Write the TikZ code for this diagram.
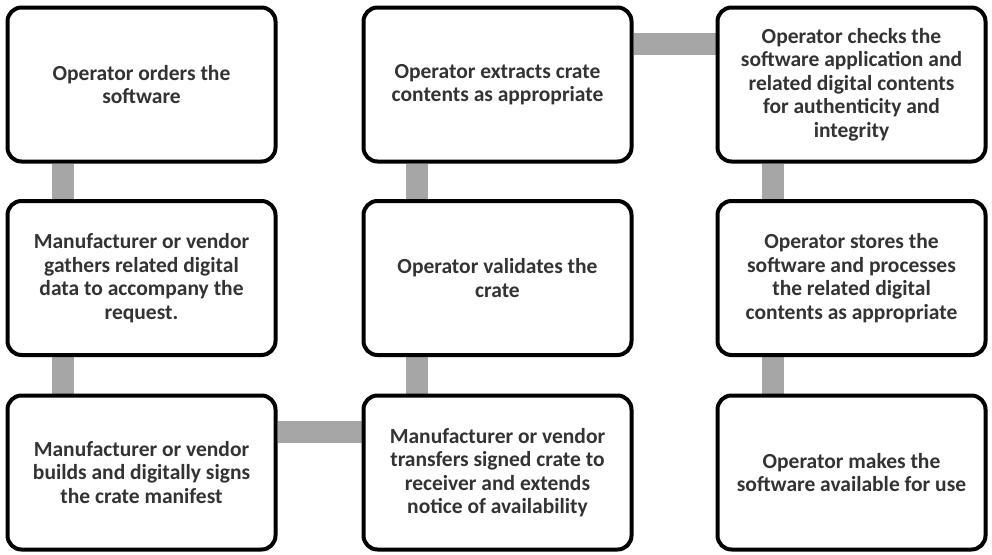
\documentclass[tikz,border=0pt]{standalone}
\usepackage{fontspec}
\setmainfont{Carlito}
\usetikzlibrary{backgrounds}
\begin{document}
\begin{tikzpicture}[x=1pt,y=-1pt,
  stepbox/.style={draw=black, line width=4pt, rounded corners=14pt, fill=white,
    minimum width=268pt, minimum height=154pt, align=center,
    inner sep=0pt, text=black!80, font=\bfseries\fontsize{21.5}{23.5}\selectfont},
  conn/.style={draw=black!35, line width=22pt}]
\useasboundingbox (0,0) rectangle (992,554);
\node[stepbox] (a1) at (141.5,84.5) {Operator orders the\\software};
\node[stepbox] (a2) at (141.5,278) {Manufacturer or vendor\\gathers related digital\\data to accompany the\\request.};
\node[stepbox] (a3) at (141.5,472.5) {Manufacturer or vendor\\builds and digitally signs\\the crate manifest};
\node[stepbox] (b3) at (497.5,472.5) {Manufacturer or vendor\\transfers signed crate to\\receiver and extends\\notice of availability};
\node[stepbox] (b2) at (497.5,278) {Operator validates the\\crate};
\node[stepbox] (b1) at (497.5,84.5) {Operator extracts crate\\contents as appropriate};
\node[stepbox] (c1) at (851.5,84.5) {Operator checks the\\software application and\\related digital contents\\for authenticity and\\integrity};
\node[stepbox] (c2) at (851.5,278) {Operator stores the\\software and processes\\the related digital\\contents as appropriate};
\node[stepbox] (c3) at (851.5,472.5) {Operator makes the\\software available for use};
\begin{scope}[on background layer]
\fill[white] (0,0) rectangle (992,554);
\draw[conn] ([xshift=57pt]a1.south west) -- ([xshift=57pt]a2.north west);
\draw[conn] ([xshift=57pt]a2.south west) -- ([xshift=57pt]a3.north west);
\draw[conn] ([yshift=-38pt]a3.north east) -- ([yshift=-38pt]b3.north west);
\draw[conn] ([xshift=55pt]b3.north west) -- ([xshift=55pt]b2.south west);
\draw[conn] ([xshift=55pt]b2.north west) -- ([xshift=55pt]b1.south west);
\draw[conn] ([yshift=-38pt]b1.north east) -- ([yshift=-38pt]c1.north west);
\draw[conn] ([xshift=57pt]c1.south west) -- ([xshift=57pt]c2.north west);
\draw[conn] ([xshift=57pt]c2.south west) -- ([xshift=57pt]c3.north west);
\end{scope}
\end{tikzpicture}
\end{document}
